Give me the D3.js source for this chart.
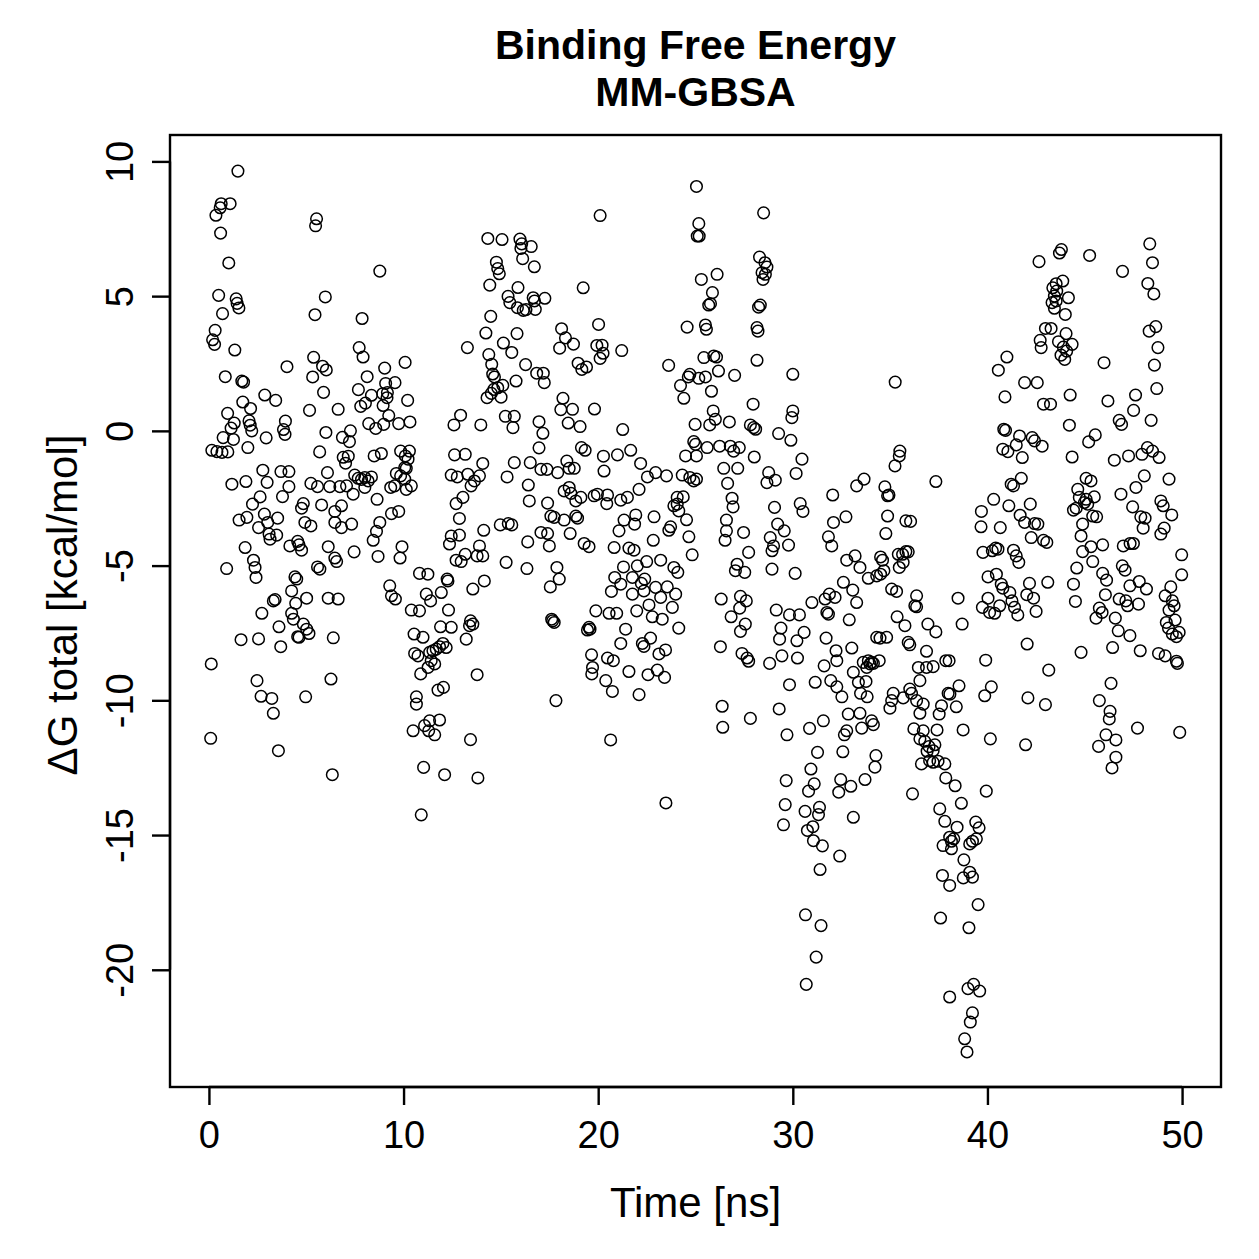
<!DOCTYPE html>
<html>
<head>
<meta charset="utf-8">
<script src="https://cdn.jsdelivr.net/npm/d3@7"></script>
<style>
	body { margin: 0; background: #fff; }
	svg { display: block; font-family: "Liberation Sans", Arial, Helvetica, sans-serif; }
</style>
</head>
<body>
<svg id="viz-mmgbsa" width="1259" height="1259"></svg>
<script>

// Time [ns] / dG total [kcal/mol] pairs in blocks.
var early_upper = [
	[1.49,9.64],[0.63,8.43],[1.09,8.43],[0.58,8.28],[0.36,8.0],[0.6,7.34],[1.02,6.23],[0.5,5.03],[1.4,4.9],[1.45,4.73],
	[1.54,4.56],[0.7,4.35],[0.32,3.73],[0.19,3.38],[0.29,3.21],[1.33,3.0],[0.84,2.01],[1.69,1.85],[1.78,1.81],[2.87,1.33],
	[3.43,1.13],[1.74,1.07],[2.14,0.83],[0.96,0.65],[1.3,0.29],[1.14,0.1],[2.06,0.37],[2.12,0.21],[2.2,0],[0.73,-0.25],
	[1.26,-0.32],[2.94,-0.26],[3.93,0.36],[3.83,0.05],[3.91,-0.13],[2.0,-0.62],[0.15,-0.72],[0.41,-0.77],[0.67,-0.8],[0.97,-0.78],
	[4.01,2.38],[5.45,4.31],[5.53,7.87],[5.48,7.61],[5.98,4.97],[8.78,5.93],[7.87,4.17],[5.38,2.73],[5.84,2.4],[6.03,2.26],
	[5.33,2.0],[5.89,1.43],[5.17,0.76],[6.64,0.8],[6.01,-0.06],[6.86,-0.24],[7.27,0],[7.22,-0.4],[5.69,-0.78],[6.9,-0.98],
	[7.16,-0.94],[7.72,3.09],[7.92,2.74],[8.13,2.01],[9.03,2.33],[10.08,2.54],[9.08,1.76],[9.56,1.79],[7.68,1.53],[8.93,1.38],
	[9.17,1.42],[9.15,1.23],[8.35,1.32],[10.21,1.13],[8.04,1.03],[7.8,0.91],[8.95,0.94],[9.24,0.57],[8.21,0.27],[8.57,0.09],
	[8.98,0.24],[9.75,0.27],[10.33,0.33],[8.49,-0.93],[8.86,-0.84],[9.85,-0.75],[10.3,-0.75],[10.09,-0.93]
];

var early_lower = [
	[7.02,-1.2],[10.06,-1.36],[10.23,-1.05],[2.77,-1.46],[3.7,-1.51],[4.11,-1.51],[1.18,-1.98],[1.9,-1.88],[2.99,-1.91],[4.11,-2.07],
	[3.78,-2.44],[2.63,-2.45],[2.24,-2.72],[5.24,-1.95],[5.58,-2.07],[6.21,-2.07],[6.73,-2.07],[6.09,-1.55],[7.07,-2.04],[7.49,-1.64],
	[7.67,-1.76],[7.84,-1.8],[8.01,-1.73],[8.35,-1.71],[8.18,-1.86],[8.01,-2.1],[7.41,-2.35],[8.64,-2.54],[9.34,-2.1],[9.54,-2.04],
	[9.63,-1.58],[9.85,-1.67],[10.14,-1.39],[10.06,-1.79],[10.4,-2.04],[10.14,-2.17],[4.85,-2.7],[4.76,-2.87],[5.79,-2.75],[6.47,-2.99],
	[6.81,-2.78],[9.38,-3.07],[9.75,-2.99],[1.55,-3.31],[1.95,-3.21],[2.85,-3.09],[3.02,-3.4],[3.53,-3.24],[2.55,-3.59],[3.09,-3.83],
	[3.14,-4.02],[3.48,-3.87],[4.93,-3.4],[5.24,-3.53],[6.47,-3.4],[6.81,-3.59],[7.33,-3.46],[8.78,-3.4],[8.61,-3.73],[8.44,-4.06],
	[1.86,-4.33],[4.16,-4.27],[4.56,-4.1],[4.63,-4.23],[4.76,-4.43],[6.13,-4.3],[6.47,-4.72],[6.56,-4.85],[7.46,-4.49],[8.69,-4.66],
	[9.92,-4.3],[9.82,-4.72],[0.91,-5.11],[2.29,-4.8],[2.37,-5.07],[2.42,-5.44],[5.58,-5.05],[5.7,-5.13],[4.42,-5.42],[4.51,-5.5],
	[10.82,-5.29],[11.25,-5.32],[9.29,-5.75],[9.38,-6.12],[9.58,-6.24],[4.25,-5.94],[4.46,-6.4],[5.02,-6.21],[3.31,-6.31],[3.4,-6.26],
	[6.13,-6.21],[6.64,-6.24],[2.72,-6.77],[4.25,-6.77],[4.34,-6.99],[3.6,-7.27],[4.85,-7.17],[5.02,-7.36],[5.14,-7.52],[4.63,-7.66],
	[4.56,-7.64],[1.65,-7.75],[2.55,-7.72],[3.69,-8.01],[6.39,-7.68],[10.4,-6.65],[10.82,-6.68],[11.17,-6.06],[11.39,-6.31],[11.94,-6.0],
	[12.28,-5.57],[10.54,-7.54],[11.0,-7.66],[11.9,-7.27],[10.57,-8.26],[10.74,-8.35],[11.34,-8.22],[11.51,-8.16],[11.68,-8.1],[11.85,-8.01],
	[12.02,-7.89],[11.42,-8.53],[11.6,-8.65],[11.26,-8.78],[10.88,-9.02],[11.77,-9.62],[12.05,-9.52],[10.66,-9.87],[10.66,-10.14],[11.34,-10.76],
	[11.85,-10.73],[11.08,-10.94],[10.49,-11.13],[11.29,-11.13],[11.6,-11.28],[0.12,-8.65],[2.47,-9.27],[6.27,-9.21],[2.68,-9.85],[3.23,-9.93],
	[4.97,-9.87],[3.31,-10.48],[0.09,-11.41],[3.57,-11.87],[6.34,-12.76],[11.03,-12.49],[12.11,-12.76],[10.91,-14.25]
];

var mid_upper = [
	[25.05,9.07],[20.1,7.99],[25.17,7.69],[25.09,7.23],[25.19,7.23],[14.33,7.14],[15.06,7.1],[15.98,7.12],[16.07,6.94],[16.56,6.84],
	[16.03,6.77],[16.12,6.39],[16.72,6.09],[14.77,6.26],[14.84,6.02],[14.92,5.83],[14.43,5.41],[15.88,5.32],[19.23,5.31],[15.37,4.99],
	[15.46,4.76],[15.85,4.57],[16.15,4.47],[16.29,4.5],[16.66,4.94],[16.73,4.82],[17.26,4.92],[16.77,4.51],[14.48,4.25],[14.23,3.63],
	[15.83,3.61],[15.13,3.26],[13.28,3.09],[14.38,2.83],[14.53,2.47],[15.56,2.91],[16.27,2.46],[16.84,2.14],[17.18,2.14],[18.12,3.79],
	[18.32,3.45],[18.73,3.22],[18.02,3.07],[20.02,3.95],[19.93,3.17],[20.2,3.18],[20.25,2.88],[20.1,2.69],[21.21,2.98],[18.97,2.51],
	[19.16,2.28],[19.4,2.37],[23.62,2.43],[14.58,2.11],[14.67,2.0],[15.78,1.85],[17.23,1.79],[14.64,1.54],[15.1,1.69],[14.84,1.6],
	[14.29,1.23],[15.01,1.25],[14.51,1.39],[24.71,2.1],[24.63,2.0],[24.23,1.68],[24.4,1.21],[25.17,1.95],[18.19,1.21],[18.08,0.79],
	[18.68,0.8],[19.81,0.81],[12.93,0.58],[12.59,0.22],[13.97,0.22],[15.23,0.54],[15.69,0.54],[15.62,0.12],[16.96,0.34],[17.16,-0.09],
	[16.96,-0.63],[18.46,0.29],[19.07,0.16],[19.14,-0.62],[19.33,-0.72],[21.26,0.05],[21.67,-0.72],[24.98,0.24],[24.91,-0.4],[25.0,-0.5],
	[12.62,-0.89],[13.17,-0.87],[20.27,-0.94],[20.99,-0.89],[24.49,-0.93],[25.05,-0.93],[24.57,3.85]
];

var mid_lower = [
	[14.07,-1.21],[15.69,-1.18],[16.51,-1.18],[17.06,-1.43],[17.37,-1.43],[17.92,-1.55],[18.39,-1.12],[18.51,-1.39],[18.77,-1.39],[20.3,-1.49],
	[22.18,-1.21],[22.53,-1.71],[22.95,-1.55],[23.51,-1.67],[24.32,-1.64],[24.71,-1.73],[24.91,-1.86],[25.05,-1.79],[12.45,-1.64],[12.76,-1.71],
	[13.3,-1.61],[13.64,-1.86],[13.9,-1.67],[13.47,-2.04],[15.32,-1.71],[16.41,-2.01],[16.46,-2.6],[17.4,-2.68],[12.7,-2.7],[13.05,-2.47],
	[12.87,-3.25],[18.25,-2.23],[18.51,-2.1],[18.6,-2.32],[18.85,-2.6],[19.11,-2.47],[19.79,-2.41],[19.96,-2.35],[20.48,-2.38],[20.44,-2.7],
	[21.16,-2.57],[21.5,-2.47],[22.1,-2.17],[17.57,-3.16],[17.74,-3.21],[18.25,-3.31],[18.85,-3.16],[18.94,-3.24],[17.4,-3.81],[17.06,-3.77],
	[14.97,-3.49],[15.38,-3.44],[15.56,-3.49],[14.12,-3.69],[12.45,-3.9],[12.87,-3.87],[12.36,-4.2],[13.9,-4.27],[16.38,-4.12],[17.49,-4.27],
	[18.56,-3.81],[19.28,-4.18],[19.53,-4.3],[20.82,-4.33],[21.07,-3.71],[21.33,-3.31],[21.87,-3.46],[21.93,-3.12],[22.87,-3.19],[22.83,-4.06],
	[21.58,-4.35],[21.84,-4.43],[23.63,-3.69],[23.72,-3.56],[23.89,-2.78],[24.06,-2.72],[24.14,-2.97],[24.37,-2.45],[24.54,-3.3],[24.06,-2.47],
	[24.66,-3.93],[24.83,-4.6],[12.7,-4.8],[12.96,-4.85],[13.17,-4.58],[13.78,-4.64],[14.07,-4.64],[15.27,-4.88],[16.34,-5.11],[17.88,-5.07],
	[18.0,-5.5],[17.54,-5.79],[21.3,-5.05],[22.01,-5.01],[22.49,-4.85],[23.21,-4.8],[23.89,-5.07],[24.09,-5.25],[20.85,-5.44],[21.16,-5.69],
	[20.68,-5.96],[21.76,-5.44],[22.22,-5.66],[22.39,-5.5],[22.95,-5.81],[23.55,-5.79],[23.98,-6.06],[21.76,-6.06],[22.35,-5.94],[22.61,-6.46],
	[23.21,-6.18],[23.81,-6.55],[23.29,-6.99],[22.78,-6.9],[21.98,-6.68],[20.95,-6.77],[20.56,-6.77],[19.88,-6.68],[21.41,-7.36],[21.16,-7.89],
	[22.27,-7.89],[22.69,-7.69],[22.35,-8.0],[23.12,-8.28],[23.46,-8.13],[24.14,-7.32],[23.04,-8.88],[23.41,-9.15],[22.56,-9.05],[21.58,-8.93],
	[22.1,-9.79],[20.73,-9.67],[20.39,-9.27],[19.66,-8.31],[19.71,-8.78],[19.67,-9.02],[20.48,-8.43],[20.78,-8.53],[19.53,-7.29],[19.58,-7.36],
	[19.45,-7.39],[17.83,-10.01],[13.78,-9.05],[17.66,-7.05],[17.74,-7.11],[17.61,-6.99],[20.64,-11.47],[13.44,-11.46],[12.24,-5.5],[12.31,-6.65],
	[12.45,-7.29],[12.19,-8.04],[13.56,-5.87],[14.15,-5.57],[13.22,-7.73],[13.39,-7.23],[13.56,-7.17],[13.44,-7.05],[13.82,-12.88],[23.48,-13.81]
];

var late_upper = [
	[28.5,8.09],[28.29,6.45],[28.57,6.24],[28.67,6.08],[28.42,5.87],[28.59,5.81],[28.47,5.62],[25.3,5.62],[26.11,5.81],[25.87,5.13],
	[25.68,4.67],[25.77,4.72],[28.33,4.67],[28.24,4.59],[25.51,3.93],[25.56,3.77],[28.16,3.83],[28.21,3.7],[25.43,2.72],[25.94,2.78],
	[26.08,2.74],[28.16,2.62],[25.51,2.0],[26.18,2.22],[27.01,2.06],[30.0,2.1],[35.26,1.81],[25.82,1.47],[27.96,0.99],[25.91,0.74],
	[26.02,0.43],[25.73,0.22],[26.74,0.33],[27.82,0.22],[27.99,0.12],[28.09,0.06],[29.27,-0.1],[30.0,0.74],[29.95,0.49],[29.9,-0.35],
	[25.6,-0.62],[26.24,-0.57],[26.79,-0.57],[26.96,-0.75],[27.25,-0.62],[28.02,-0.97],[30.47,-1.05],[35.5,-0.75],[35.47,-0.93]
];

var late_lower = [
	[26.45,-1.39],[27.17,-1.39],[28.76,-1.55],[28.67,-1.92],[29.1,-1.83],[30.17,-1.58],[26.65,-1.95],[35.25,-1.3],[37.35,-1.88],[26.88,-2.5],
	[26.93,-2.82],[29.06,-2.84],[30.38,-2.7],[30.52,-2.99],[32.05,-2.38],[33.28,-2.04],[33.66,-1.79],[34.73,-2.08],[34.94,-2.38],[34.87,-2.41],
	[26.59,-3.31],[26.59,-3.71],[26.52,-4.06],[27.47,-3.77],[27.73,-4.51],[29.22,-3.46],[29.56,-3.71],[28.84,-3.96],[29.01,-4.27],[28.93,-4.45],
	[29.78,-4.24],[28.93,-5.13],[27.14,-4.95],[27.05,-5.19],[27.53,-5.25],[30.12,-5.29],[32.09,-3.4],[32.73,-3.19],[34.87,-3.16],[34.78,-3.81],
	[35.81,-3.34],[36.05,-3.36],[31.83,-3.93],[32.0,-4.27],[32.77,-4.8],[33.2,-4.64],[33.45,-5.07],[33.88,-5.47],[34.31,-5.38],[34.51,-5.32],
	[34.61,-4.8],[34.68,-5.19],[34.51,-4.68],[35.42,-4.58],[35.64,-4.58],[35.81,-4.48],[35.93,-4.49],[35.47,-5.07],[35.67,-4.88],[35.08,-5.87],
	[35.33,-5.96],[36.36,-6.12],[36.27,-6.49],[26.32,-6.24],[27.31,-6.14],[27.61,-6.31],[27.27,-6.58],[26.83,-6.9],[27.56,-7.17],[27.31,-7.44],
	[29.15,-6.65],[29.83,-6.83],[30.34,-6.83],[29.39,-7.32],[29.32,-7.73],[30.21,-7.79],[30.58,-7.48],[30.98,-6.37],[31.66,-6.24],[31.88,-6.06],
	[32.17,-6.18],[33.08,-5.91],[33.28,-6.37],[31.75,-6.74],[31.83,-6.8],[32.9,-7.01],[32.6,-5.62],[35.36,-6.9],[35.76,-7.23],[36.36,-6.53],
	[36.94,-7.17],[37.35,-7.46],[34.31,-7.66],[34.48,-7.69],[34.82,-7.66],[35.93,-7.85],[36.01,-7.94],[31.71,-7.69],[26.28,-8.01],[27.39,-8.26],
	[27.65,-8.43],[27.73,-8.55],[28.81,-8.63],[29.44,-8.35],[30.24,-8.43],[31.61,-8.72],[32.22,-8.16],[32.26,-8.53],[33.03,-8.06],[33.62,-8.59],
	[33.88,-8.53],[33.97,-8.65],[34.05,-8.59],[34.14,-8.63],[34.44,-8.53],[33.8,-8.78],[33.11,-8.96],[33.37,-9.33],[33.76,-9.3],[33.48,-9.74],
	[33.82,-9.87],[36.87,-8.18],[36.45,-8.78],[36.87,-8.78],[37.21,-8.75],[37.86,-8.53],[36.53,-9.27],[29.83,-9.42],[31.15,-9.33],[31.95,-9.27],
	[32.26,-9.5],[32.52,-9.87],[35.16,-9.74],[35.08,-10.01],[34.99,-10.29],[35.67,-9.91],[36.1,-9.74],[36.01,-9.58],[36.36,-10.01],[36.7,-10.14],
	[36.53,-10.48],[37.64,-10.2],[37.52,-10.51],[37.98,-9.74],[26.37,-10.22],[26.4,-11.0],[27.82,-10.67],[29.3,-10.32],[29.7,-11.28],[30.86,-11.04],
	[31.57,-10.76],[32.85,-10.51],[33.45,-10.48],[34.05,-10.76],[34.14,-10.9],[33.54,-11.03],[32.77,-11.13],[32.65,-11.28],[31.27,-11.93],[32.57,-11.91],
	[34.27,-12.05],[36.22,-11.06],[36.7,-11.13],[37.41,-11.1],[36.53,-11.43],[36.78,-11.52],[37.0,-11.72],[37.21,-11.87],[36.9,-11.89],[37.3,-11.65]
];

var late_tail = [
	[34.22,-12.48],[36.61,-12.36],[37.03,-12.24],[37.46,-12.26],[37.81,-12.36],[37.21,-12.3],[37.86,-12.88],[30.93,-12.55],[29.66,-12.98],[31.1,-13.1],
	[30.81,-13.37],[32.46,-12.94],[32.98,-13.19],[32.36,-13.41],[33.71,-12.94],[36.15,-13.47],[29.61,-13.87],[29.52,-14.62],[30.63,-14.12],[31.37,-13.97],
	[31.32,-14.24],[31.03,-14.69],[30.75,-14.83],[31.06,-15.21],[31.52,-15.4],[33.11,-14.34],[32.41,-15.78],[31.4,-16.28],[37.55,-14.03],[37.81,-14.49],
	[37.72,-15.39],[38.06,-15.08],[37.69,-16.5],[38.06,-16.87],[37.59,-18.08],[30.65,-17.96],[31.45,-18.36],[31.2,-19.53],[30.69,-20.54],[38.06,-21.01],
	[38.34,-13.17],[39.94,-13.37],[38.66,-13.82],[38.44,-14.71],[39.4,-14.52],[39.57,-14.73],[38.27,-15.14],[38.15,-15.23],[38.15,-15.51],[39.43,-15.14],
	[39.23,-15.23],[39.09,-15.33],[38.79,-15.92],[38.76,-16.59],[39.09,-16.38],[39.23,-16.56],[39.52,-17.58],[39.05,-18.44],[39.0,-20.7],[39.29,-20.54],
	[39.6,-20.79],[39.23,-21.6],[39.12,-21.94],[38.83,-22.56],[38.95,-23.05]
];

var end_upper = [
	[48.34,6.94],[43.8,6.73],[43.7,6.6],[45.25,6.51],[42.65,6.28],[48.48,6.24],[46.94,5.92],[48.24,5.47],[48.55,5.08],[43.87,5.56],
	[43.53,5.46],[43.36,5.31],[43.56,5.19],[43.44,5.0],[43.53,4.82],[43.32,4.76],[43.44,4.55],[44.16,4.94],[44.0,4.32],[42.98,3.8],
	[43.27,3.8],[44.04,3.61],[42.71,3.36],[42.76,3.09],[43.65,3.31],[43.9,3.11],[44.35,3.21],[44.07,2.96],[43.78,2.81],[43.97,2.65],
	[48.31,3.7],[48.65,3.87],[48.76,3.09],[48.58,2.44],[41.0,2.74],[40.56,2.25],[45.99,2.53],[41.91,1.79],[42.56,1.79],[40.9,1.26],
	[44.25,1.33],[48.7,1.57],[42.88,0.99],[43.24,0.99],[46.19,1.11],[47.61,1.33],[47.51,0.76],[48.41,0.39],[46.77,0.39],[46.89,0.24],
	[44.21,0.21],[40.84,0.06],[40.93,0.02],[41.65,-0.19],[41.48,-0.52],[42.3,-0.25],[42.42,-0.37],[42.81,-0.57],[40.79,-0.68],[41.05,-0.77],
	[41.79,-0.99],[45.54,-0.15],[45.2,-0.41],[44.35,-0.97],[46.52,-1.09],[47.25,-0.93],[47.94,-0.87],[48.22,-0.62],[48.48,-0.75],[48.82,-0.99]
];

var end_lower = [
	[49.33,-1.79],[48.06,-1.67],[47.63,-2.1],[46.86,-2.35],[41.22,-1.98],[41.34,-2.04],[41.74,-1.76],[40.32,-2.54],[41.1,-2.78],[42.2,-2.72],
	[39.69,-2.99],[39.67,-3.56],[40.66,-3.59],[41.68,-3.13],[41.91,-3.4],[42.42,-3.44],[42.59,-3.46],[42.25,-3.96],[42.88,-4.06],[43.05,-4.14],
	[39.77,-4.51],[40.25,-4.45],[40.42,-4.35],[40.54,-4.39],[41.34,-4.43],[41.48,-4.64],[41.61,-4.88],[40.03,-5.42],[40.46,-5.32],[40.71,-5.69],
	[40.79,-5.84],[41.15,-6.0],[41.26,-6.31],[41.39,-6.55],[41.56,-6.83],[42.16,-5.66],[42.02,-6.08],[42.37,-6.21],[43.1,-5.62],[42.5,-6.7],
	[40.03,-6.21],[39.74,-6.55],[40.11,-6.74],[40.37,-6.77],[40.63,-6.49],[38.49,-6.21],[38.7,-7.17],[42.04,-7.91],[38.03,-8.53],[39.91,-8.51],
	[43.15,-8.88],[38.54,-9.46],[38.07,-9.77],[38.4,-10.24],[40.2,-9.5],[39.86,-9.83],[42.08,-9.91],[42.98,-10.16],[38.75,-11.1],[40.15,-11.43],
	[41.96,-11.65],[44.64,-2.17],[45.07,-1.76],[45.32,-1.86],[44.72,-2.47],[44.98,-2.66],[45.15,-2.72],[45.07,-2.54],[45.49,-2.45],[44.56,-2.87],
	[44.42,-2.94],[44.89,-3.46],[45.41,-3.16],[45.61,-3.19],[44.81,-3.9],[44.89,-4.48],[45.32,-4.3],[45.92,-4.23],[45.41,-4.85],[44.59,-5.09],
	[44.42,-5.69],[44.52,-6.33],[46.06,-6.08],[45.92,-5.29],[46.12,-5.54],[45.75,-6.58],[45.58,-6.95],[45.89,-6.74],[44.81,-8.22],[46.57,-6.95],
	[46.72,-7.42],[46.77,-6.24],[47.11,-6.31],[47.2,-6.49],[47.32,-7.6],[46.43,-8.04],[46.98,-4.27],[47.33,-4.18],[47.5,-4.18],[46.93,-5.01],
	[47.07,-5.17],[47.32,-5.75],[47.8,-5.59],[48.17,-5.87],[47.76,-6.43],[47.46,-2.82],[47.88,-3.19],[48.1,-3.24],[48.0,-3.61],[48.91,-2.6],
	[49.03,-2.78],[49.47,-3.12],[49.08,-3.61],[48.91,-3.83],[49.98,-4.6],[49.98,-5.34],[49.42,-5.79],[49.13,-6.12],[49.5,-6.31],[49.59,-6.49],
	[49.33,-6.65],[49.64,-7.02],[49.19,-7.11],[49.3,-7.32],[49.5,-7.54],[49.71,-7.64],[49.85,-7.48],[49.71,-8.55],[49.76,-8.63],[47.85,-8.16],
	[48.79,-8.26],[49.13,-8.35],[46.35,-9.37],[45.75,-10.01],[46.3,-10.41],[46.26,-10.69],[47.71,-11.03],[49.88,-11.19],[46.09,-11.28],[46.6,-11.47],
	[45.71,-11.71],[46.6,-12.11],[46.4,-12.51]
];

var xTicks = [0, 10, 20, 30, 40, 50];
var yTicks = [-20, -15, -10, -5, 0, 5, 10];
var titleLines = ['Binding Free Energy', 'MM-GBSA'];
var xLabel = 'Time [ns]';
var yLabel = '\u0394G total [kcal/mol]';


window.mmgbsaViz = {

	// Plot region in pixels (the R "box").
	_frame: { left: 170, right: 1221, top: 135, bottom: 1087 },

	// Axis limits, R style (data range plus 4%).
	_xLimits: [ -2, 52 ],
	_yLimits: [ -24.35, 10.98 ],

	_tickLength: 18,


	_bindSvg: function () {
		this._svg = d3.select( '#viz-mmgbsa' );
	},


	_setScales: function () {
		var f = this._frame;
		this._x = d3.scaleLinear().domain( this._xLimits ).range( [ f.left, f.right ] );
		this._y = d3.scaleLinear().domain( this._yLimits ).range( [ f.bottom, f.top ] );
	},


	_drawPoints: function () {

		// All blocks go into one list, order does not matter for open circles.
		var points = [].concat( early_upper, early_lower, mid_upper, mid_lower,
			late_upper, late_lower, late_tail, end_upper, end_lower );

		this._svg.append( 'g' )
			.selectAll( 'circle' )
			.data( points )
			.enter()
			.append( 'circle' )
			.attr( 'cx', function ( d ) { return this._x( d[0] ); }.bind( this ) )
			.attr( 'cy', function ( d ) { return this._y( d[1] ); }.bind( this ) )
			.attr( 'r', 5.8 )
			.attr( 'fill', 'none' )
			.attr( 'stroke', '#000' )
			.attr( 'stroke-width', 1.5 );

	},


	_drawAxes: function () {

		var f = this._frame;

		// Plain hyphen for negatives, like R does.
		var plain = function ( d ) { return String( d ); };

		var xAxis = this._svg.append( 'g' )
			.attr( 'transform', 'translate(0,' + f.bottom + ')' )
			.call( d3.axisBottom( this._x ).tickValues( xTicks ).tickSize( this._tickLength ).tickPadding( 16 ).tickFormat( plain ) );

		var yAxis = this._svg.append( 'g' )
			.attr( 'transform', 'translate(' + f.left + ',0)' )
			.call( d3.axisLeft( this._y ).tickValues( yTicks ).tickSize( this._tickLength ).tickFormat( plain ) );

		// R draws the axis line only between the outer ticks.
		xAxis.select( '.domain' )
			.attr( 'd', 'M' + this._x( xTicks[0] ) + ',0H' + this._x( xTicks[xTicks.length - 1] ) );
		yAxis.select( '.domain' )
			.attr( 'd', 'M0,' + this._y( yTicks[0] ) + 'V' + this._y( yTicks[yTicks.length - 1] ) );

		[ xAxis, yAxis ].forEach( function ( ax ) {
			ax.selectAll( 'line, path' ).attr( 'stroke', '#000' ).attr( 'stroke-width', 2.4 );
			ax.selectAll( 'text' )
				.attr( 'fill', '#000' )
				.style( 'font-size', '38px' )
				.style( 'font-family', '"Liberation Sans", Arial, sans-serif' );
		} );

		xAxis.selectAll( 'text' ).attr( 'dy', '0.71em' );

		// Y tick labels stand upright, parallel to the axis.
		yAxis.selectAll( 'text' )
			.attr( 'x', null )
			.attr( 'dy', null )
			.attr( 'text-anchor', 'middle' )
			.attr( 'transform', 'translate(' + ( -37 ) + ',0) rotate(-90)' );

	},


	_drawBox: function () {
		var f = this._frame;
		this._svg.append( 'rect' )
			.attr( 'x', f.left )
			.attr( 'y', f.top )
			.attr( 'width', f.right - f.left )
			.attr( 'height', f.bottom - f.top )
			.attr( 'fill', 'none' )
			.attr( 'stroke', '#000' )
			.attr( 'stroke-width', 2.4 );
	},


	_drawLabels: function () {

		var f = this._frame;
		var cx = ( f.left + f.right ) / 2;
		var cy = ( f.top + f.bottom ) / 2;

		this._svg.selectAll( 'text.title' )
			.data( titleLines )
			.enter()
			.append( 'text' )
			.classed( 'title', true )
			.attr( 'x', cx )
			.attr( 'y', function ( d, i ) { return 59 + i * 47; } )
			.attr( 'text-anchor', 'middle' )
			.style( 'font-size', '41px' )
			.style( 'font-weight', 'bold' )
			.text( function ( d ) { return d; } );

		this._svg.append( 'text' )
			.attr( 'x', cx )
			.attr( 'y', 1217 )
			.attr( 'text-anchor', 'middle' )
			.style( 'font-size', '42px' )
			.text( xLabel );

		this._svg.append( 'text' )
			.attr( 'transform', 'translate(77,' + ( cy - 6 ) + ') rotate(-90)' )
			.attr( 'text-anchor', 'middle' )
			.style( 'font-size', '42px' )
			.text( yLabel );

	},


	on: function () {
		this._bindSvg();
		this._setScales();
		this._drawPoints();
		this._drawAxes();
		this._drawBox();
		this._drawLabels();
	}

};

window.mmgbsaViz.on();
</script>
</body>
</html>
